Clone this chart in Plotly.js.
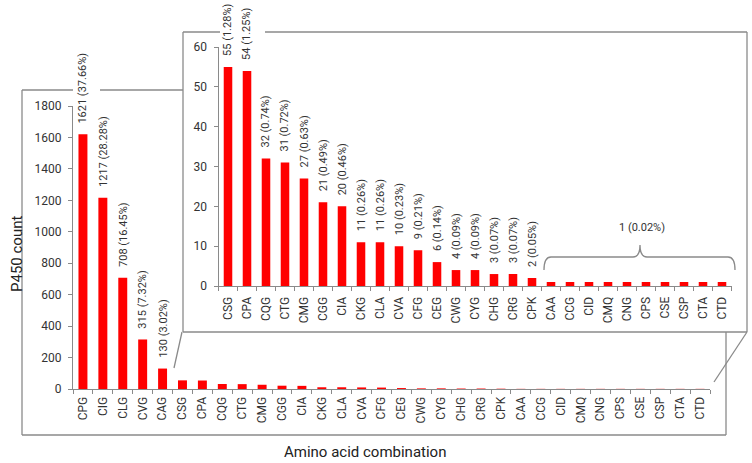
<!DOCTYPE html>
<html>
<head>
<meta charset="utf-8">
<script src="https://cdn.plot.ly/plotly-3.0.1.min.js"></script>
<style>html,body{margin:0;padding:0;background:#fff;}#chart{width:752px;height:463px;}</style>
</head>
<body>
<div id="chart"></div>
<script>
// ---- data ----
const categories = ['CPG','CIG','CLG','CVG','CAG','CSG','CPA','CQG','CTG','CMG','CGG','CIA','CKG','CLA','CVA','CFG','CEG','CWG','CYG','CHG','CRG','CPK','CAA','CCG','CID','CMQ','CNG','CPS','CSE','CSP','CTA','CTD'];
const counts = [1621,1217,708,315,130,55,54,32,31,27,21,20,11,11,10,9,6,4,4,3,3,2,1,1,1,1,1,1,1,1,1,1];
const percents = ['37.66%','28.28%','16.45%','7.32%','3.02%','1.28%','1.25%','0.74%','0.72%','0.63%','0.49%','0.46%','0.26%','0.26%','0.23%','0.21%','0.14%','0.09%','0.09%','0.07%','0.07%','0.05%','0.02%','0.02%','0.02%','0.02%','0.02%','0.02%','0.02%','0.02%','0.02%','0.02%'];
const insetStart = 5;          // inset begins at CSG
const singleStart = 22;        // values of 1 (0.02%) begin at CAA
const mainTicks = [0,200,400,600,800,1000,1200,1400,1600,1800];
const insetTicks = [0,10,20,30,40,50,60];

// ---- geometry helpers (pixels -> paper) ----
const W = 752, H = 463;
const X = p => p / W;
const Y = p => 1 - p / H;

const insetCats = categories.slice(insetStart);
const insetCounts = counts.slice(insetStart);

const FONT = 'Roboto, "Liberation Sans", sans-serif';
const TXT = '#333333';
const AX = '#8a8a8a';

const traces = [
  {type:'bar', x:categories, y:counts, xaxis:'x', yaxis:'y', marker:{color:'#ff0000'}, hoverinfo:'x+y'},
  {type:'bar', x:insetCats, y:insetCounts, xaxis:'x2', yaxis:'y2', marker:{color:'#ff0000'}, hoverinfo:'x+y'}
];

const axisCommon = {
  showline:true, linecolor:AX, linewidth:1, ticks:'outside', tickcolor:AX, ticklen:4,
  showgrid:false, zeroline:false, fixedrange:true,
  tickfont:{family:FONT, size:12, color:TXT}
};

const annotations = [];
// main chart labels (first five bars)
for (let i = 0; i < insetStart; i++) {
  annotations.push({x:categories[i], y:counts[i], xref:'x', yref:'y', text:counts[i] + ' (' + percents[i] + ')',
    textangle:-90, showarrow:false, xanchor:'center', yanchor:'bottom', yshift:9,
    font:{family:FONT, size:11, color:TXT}});
}
// inset labels
for (let i = insetStart; i < singleStart; i++) {
  annotations.push({x:categories[i], y:counts[i], xref:'x2', yref:'y2', text:counts[i] + ' (' + percents[i] + ')',
    textangle:-90, showarrow:false, xanchor:'center', yanchor:'bottom', yshift:9,
    font:{family:FONT, size:11, color:TXT}});
}
// group label for the values of 1
annotations.push({x:X(642), y:Y(227), xref:'paper', yref:'paper', text:counts[singleStart] + ' (' + percents[singleStart] + ')',
  showarrow:false, xanchor:'center', yanchor:'middle', font:{family:FONT, size:11, color:TXT}});
// axis titles
annotations.push({x:X(17), y:Y(254), xref:'paper', yref:'paper', text:'P450 count', textangle:-90,
  showarrow:false, xanchor:'center', yanchor:'middle', font:{family:FONT, size:15, color:'#222'}});
annotations.push({x:X(365), y:Y(452), xref:'paper', yref:'paper', text:'Amino acid combination',
  showarrow:false, xanchor:'center', yanchor:'middle', font:{family:FONT, size:15, color:'#222'}});

function seg(x0,y0,x1,y1){
  return {type:'line', xref:'paper', yref:'paper', x0:X(x0), y0:Y(y0), x1:X(x1), y1:Y(y1),
    line:{color:AX, width:1.3}, layer:'above'};
}
const shapes = [
  // main box
  seg(22,90,22,435), seg(22,435,726,435), seg(726,332,726,435), seg(22,90,73,90), seg(100,90,183,90),
  // inset box
  seg(183,32,183,332), seg(183,332,747,332), seg(747,32,747,332), seg(183,32,220,32), seg(265,32,747,32),
  // connectors
  seg(182,332,174,368), seg(747,332,714,382)
];
// brace over the single-count bars
const bp = (x,y) => X(x).toFixed(5) + ',' + Y(y).toFixed(5);
shapes.push({type:'path', xref:'paper', yref:'paper', layer:'above', line:{color:AX, width:1.3},
  path:'M' + bp(544,270) + ' Q' + bp(544,257) + ' ' + bp(551,257) + ' L' + bp(633,257) +
       ' Q' + bp(640,257) + ' ' + bp(640,245) + ' Q' + bp(640,257) + ' ' + bp(647,257) +
       ' L' + bp(728,257) + ' Q' + bp(735,257) + ' ' + bp(735,270)});

const layout = {
  width:W, height:H, margin:{l:0, r:0, t:0, b:0},
  paper_bgcolor:'#ffffff', plot_bgcolor:'rgba(0,0,0,0)',
  showlegend:false, bargap:0.55,
  font:{family:FONT, color:TXT},
  xaxis:Object.assign({}, axisCommon, {type:'category', domain:[X(73), X(710)], anchor:'y',
    tickson:'boundaries', tickangle:-90, ticklabelstandoff:2}),
  yaxis:Object.assign({}, axisCommon, {domain:[Y(389), Y(106)], range:[0,1800], anchor:'x',
    tickvals:mainTicks, ticklabelstandoff:4}),
  xaxis2:Object.assign({}, axisCommon, {type:'category', domain:[X(218.5), X(731.5)], anchor:'y2',
    tickson:'boundaries', tickangle:-90, ticklabelstandoff:5}),
  yaxis2:Object.assign({}, axisCommon, {domain:[Y(286), Y(47)], range:[0,60], anchor:'x2',
    tickvals:insetTicks, ticklabelstandoff:4}),
  annotations:annotations, shapes:shapes
};

Plotly.newPlot('chart', traces, layout, {displayModeBar:false, staticPlot:true});
</script>
</body>
</html>
